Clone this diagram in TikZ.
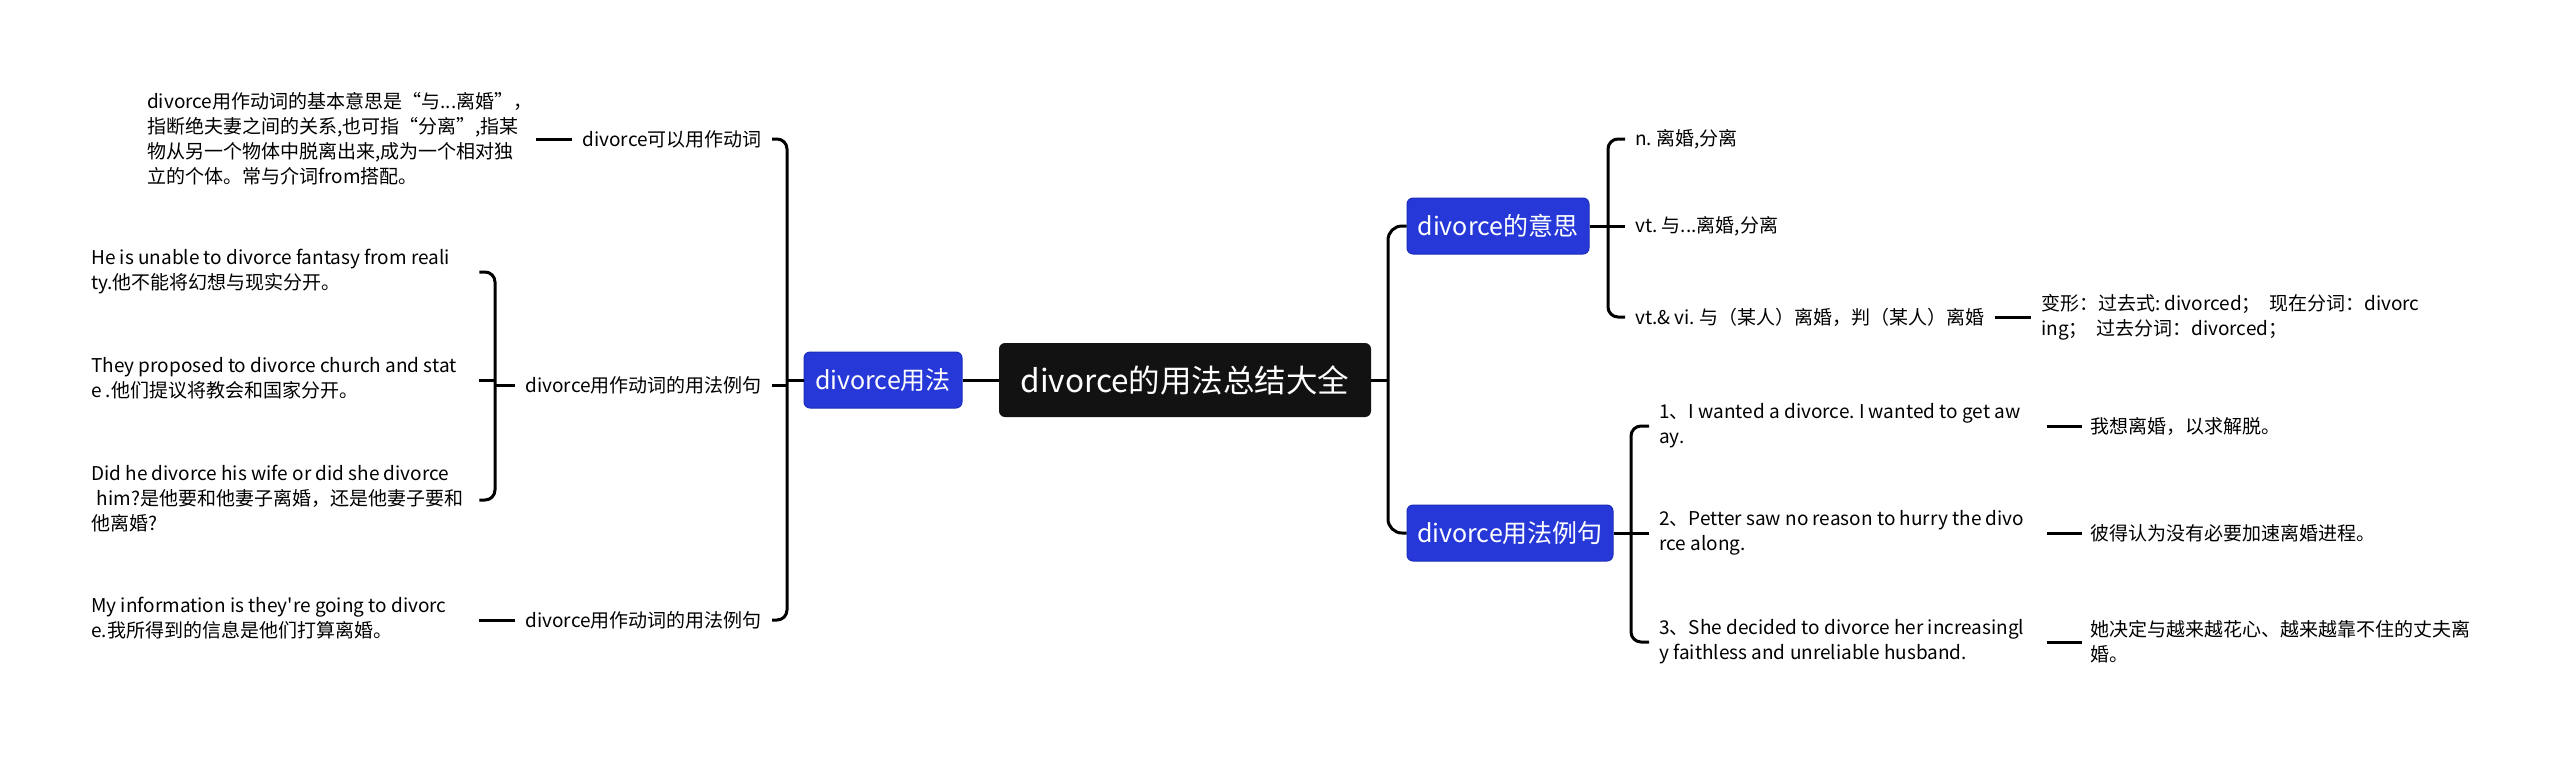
\documentclass[tikz,border=0pt]{standalone}
\usepackage{fontspec}
\setmainfont{Noto Sans CJK SC}[Ligatures=TeXOff]
\frenchspacing
\definecolor{bluebox}{HTML}{2639D8}
\definecolor{blueedge}{HTML}{1C2DB8}
\definecolor{rootfill}{HTML}{121212}
\newcommand\lbx[2]{\makebox[#1][l]{\begin{tabular}{@{}l@{}}#2\end{tabular}}}
\tikzset{
  conn/.style={line width=3pt, draw=black},
  rootbox/.style={fill=rootfill, rounded corners=6pt, text=white, font=\fontsize{31.5}{36}\selectfont, inner sep=0pt, minimum width=372pt, minimum height=74pt},
  bluenode/.style={fill=bluebox, draw=blueedge, line width=1pt, rounded corners=6pt, text=white, font=\fontsize{25}{30}\selectfont, inner sep=0pt, minimum height=56pt},
  leaf/.style={align=left, font=\fontsize{19}{25}\selectfont\frenchspacing, inner ysep=0pt, inner xsep=10pt, text=black},
}
\begin{document}
\begin{tikzpicture}[x=1pt, y=-1pt]
\useasboundingbox[fill=white] (0,0) rectangle (2560,756);

% center and main branches
\node[rootbox] (root) at (1185,380) {divorce的用法总结大全};
\node[bluenode, minimum width=158pt] (L) at (883,380) {divorce用法};
\node[bluenode, minimum width=182pt] (R1) at (1498,226) {divorce的意思};
\node[bluenode, minimum width=206pt] (R2) at (1510,533) {divorce用法例句};

\coordinate (tL) at (787,0);
\coordinate (tR) at (1388,0);
\coordinate (bL) at (495,0);
\coordinate (bR1) at (1608,0);
\coordinate (bR2) at (1631,0);

% left labels
\node[leaf, anchor=east] (la1) at (772,139) {divorce可以用作动词};
\node[leaf, anchor=east] (la2) at (772,385) {divorce用作动词的用法例句};
\node[leaf, anchor=east] (la3) at (772,620) {divorce用作动词的用法例句};

% left leaves
\node[leaf, anchor=west] (p1) at (137,141) {\lbx{379pt}{divorce用作动词的基本意思是“与...离婚”，\\指断绝夫妻之间的关系,也可指“分离”,指某\\物从另一个物体中脱离出来,成为一个相对独\\立的个体。常与介词from搭配。}};
\node[leaf, anchor=west] (q1) at (81,272) {\lbx{378pt}{He is unable to divorce fantasy from reali\\ty.他不能将幻想与现实分开。}};
\node[leaf, anchor=west] (q2) at (81,380) {\lbx{378pt}{They proposed to divorce church and stat\\e .他们提议将教会和国家分开。}};
\node[leaf, anchor=west] (q3) at (81,500) {\lbx{378pt}{Did he divorce his wife or did she divorce\\\hspace*{0.3em}him?是他要和他妻子离婚，还是他妻子要和\\他离婚?}};
\node[leaf, anchor=west] (q4) at (81,620) {\lbx{378pt}{My information is they're going to divorc\\e.我所得到的信息是他们打算离婚。}};

% right meanings
\node[leaf, anchor=west] (r11) at (1625,139) {n. 离婚,分离};
\node[leaf, anchor=west] (r12) at (1625,226) {vt. 与...离婚,分离};
\node[leaf, anchor=west] (r13) at (1625,317) {vt.\& vi. 与（某人）离婚，判（某人）离婚};
\node[leaf, anchor=west] (r13b) at (2031,317) {变形：过去式: divorced；\ \ 现在分词：divorc\\ing；\ \ 过去分词：divorced；};

% right examples
\node[leaf, anchor=west] (s1) at (1649,426) {\lbx{378pt}{1、I wanted a divorce. I wanted to get aw\\ay.}};
\node[leaf, anchor=west] (s2) at (1649,533) {\lbx{378pt}{2、Petter saw no reason to hurry the divo\\rce along.}};
\node[leaf, anchor=west] (s3) at (1649,642) {\lbx{378pt}{3、She decided to divorce her increasingl\\y faithless and unreliable husband.}};
\node[leaf, anchor=west, inner xsep=8pt] (t1) at (2082,426) {我想离婚，以求解脱。};
\node[leaf, anchor=west, inner xsep=8pt] (t2) at (2082,533) {彼得认为没有必要加速离婚进程。};
\node[leaf, anchor=west, inner xsep=8pt] (t3) at (2082,642) {她决定与越来越花心、越来越靠不住的丈夫离\\婚。};

% connectors: root
\draw[conn] (root.west) -- (L.east);
\draw[conn] (root.east) -- (root.east -| tR);

% left trunk
\draw[conn, rounded corners=10pt] (la1.east) -- (la1.east -| tL) -- (la3.east -| tL) -- (la3.east);
\draw[conn] (L.west) -- (L.west -| tL);
\draw[conn] (la2.east) -- (la2.east -| tL);

% left leaves
\draw[conn] (la1.west) -- (la1.west -| p1.east);
\draw[conn] (la3.west) -- (la3.west -| q4.east);
\draw[conn, rounded corners=10pt] (q1.east) -- (q1.east -| bL) -- (q3.east -| bL) -- (q3.east);
\draw[conn] (q2.east) -- (q2.east -| bL);
\draw[conn] (bL |- la2.west) -- (la2.west);

% right trunk
\draw[conn, rounded corners=14pt] (R1.west) -- (R1.west -| tR) -- (R2.west -| tR) -- (R2.west);

% right meanings bracket
\draw[conn, rounded corners=10pt] (r11.west) -- (r11.west -| bR1) -- (r13.west -| bR1) -- (r13.west);
\draw[conn] (R1.east) -- (r12.west);
\draw[conn] (r13.east) -- (r13b.west);

% right examples bracket
\draw[conn, rounded corners=10pt] (s1.west) -- (s1.west -| bR2) -- (s3.west -| bR2) -- (s3.west);
\draw[conn] (R2.east) -- (s2.west);
\draw[conn] (s1.east) -- (s1.east -| t1.west);
\draw[conn] (s2.east) -- (s2.east -| t2.west);
\draw[conn] (s3.east) -- (s3.east -| t3.west);
\end{tikzpicture}
\end{document}
